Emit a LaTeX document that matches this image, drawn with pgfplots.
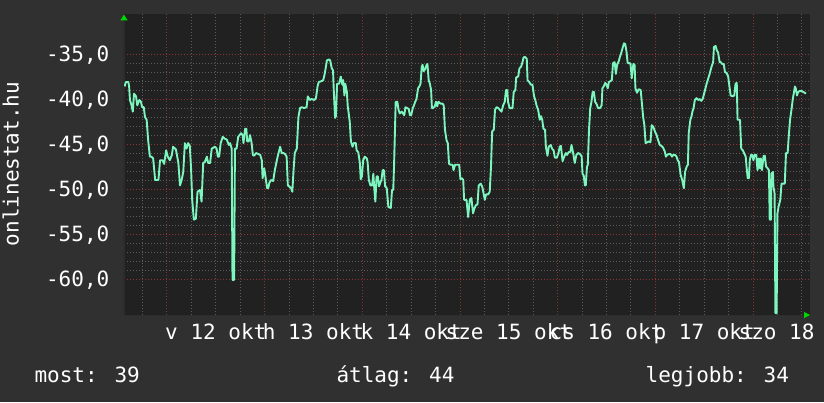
\documentclass[border=0pt]{standalone}
\usepackage{fontspec}
\setmainfont{DejaVu Sans Mono}
\usepackage{pgfplots}
\pgfplotsset{compat=1.18}
\usetikzlibrary{arrows.meta}
\definecolor{outerbg}{RGB}{48,48,48}
\definecolor{plotbg}{RGB}{33,33,33}
\definecolor{gridminor}{RGB}{92,92,92}
\definecolor{gridmajor}{RGB}{140,52,52}
\definecolor{linecol}{RGB}{125,245,190}
\definecolor{arrowgreen}{RGB}{0,215,0}
\definecolor{axiscol}{RGB}{44,44,44}
\begin{document}
\begin{tikzpicture}[font=\fontsize{21}{25}\selectfont]
\useasboundingbox (0,0) rectangle (824pt,402pt);
\clip (0,0) rectangle (824pt,402pt);
\fill[outerbg] (0,0) rectangle (824pt,402pt);
\begin{axis}[
  at={(124pt,87pt)}, anchor=south west,
  scale only axis, width=686pt, height=300.5pt,
  xmin=-10.56, xmax=158.0, ymin=-64.0, ymax=-30.6,
  axis background/.style={fill=plotbg},
  axis x line=bottom, axis y line=left,
  x axis line style={draw=axiscol, line width=1pt, -{Triangle[length=6pt,width=6pt,color=arrowgreen]}},
  y axis line style={draw=axiscol, line width=2pt, -{Triangle[length=6pt,width=7pt,color=arrowgreen]}},
  major tick length=0pt, minor tick length=0pt,
  xtick={12,36,60,84,108,132,156},
  xticklabels={v 12 okt,h 13 okt,k 14 okt,sze 15 okt,cs 16 okt,p 17 okt,szo 18 okt},
  minor xtick={-6,6,12,18,30,36,42,54,60,66,78,84,90,102,108,114,126,132,138,150,156},
  extra x ticks={0,24,48,72,96,120,144},
  extra x tick labels={},
  extra x tick style={xmajorgrids=true},
  xmajorgrids=false, xminorgrids=true,
  ytick={-60,-55,-50,-45,-40,-35},
  yticklabels={{-60,0},{-55,0},{-50,0},{-45,0},{-40,0},{-35,0}},
  minor y tick num=4,
  ymajorgrids=true, yminorgrids=true,
  minor grid style={gridminor, line width=1pt, dash pattern=on 1pt off 2pt},
  major grid style={gridmajor, line width=1pt, dash pattern=on 1pt off 2pt},
  tick label style={white, font=\fontsize{21}{25}\selectfont},
  xticklabel style={anchor=base, inner sep=0pt, yshift=-24pt},
  yticklabel style={anchor=base east, inner sep=0pt, xshift=-14.5pt, yshift=-7.6pt},
  clip=true,
]
\addplot[linecol, line width=1.9pt, line join=round, mark=none] table {
x y
-10.4 -38.6
-10.1 -38.1
-9.5 -38.1
-9.3 -38.6
-9.1 -40.1
-8.7 -40.7
-8.4 -41.4
-8.1 -39.4
-7.6 -39.7
-7.3 -40.7
-6.8 -40.1
-6.4 -40.3
-6.1 -40.9
-5.7 -40.9
-5.4 -42.0
-5.0 -42.3
-4.6 -44.7
-4.2 -46.4
-3.8 -46.4
-3.4 -46.6
-2.9 -49.0
-2.1 -49.0
-1.7 -46.8
-1.1 -46.8
-0.7 -47.2
-0.2 -45.7
0.2 -46.4
0.7 -46.8
1.2 -46.2
1.5 -45.3
2.2 -45.6
2.8 -47.1
3.2 -49.6
3.6 -49.0
4.0 -48.1
4.4 -44.9
4.8 -45.5
5.2 -44.9
5.6 -45.2
5.9 -47.5
6.2 -51.2
6.6 -53.4
7.1 -53.3
7.5 -50.3
8.1 -50.1
8.5 -51.4
8.9 -47.1
9.3 -47.0
9.8 -46.4
10.1 -47.1
10.6 -47.1
11.0 -45.5
11.8 -45.3
12.2 -45.5
12.5 -46.4
12.8 -46.4
13.2 -44.9
13.7 -44.2
14.2 -44.4
14.7 -44.5
15.2 -45.1
15.5 -44.9
15.9 -45.5
16.1 -60.1
16.5 -60.1
16.7 -45.5
17.1 -45.5
17.5 -44.2
18.2 -43.8
18.6 -44.0
18.8 -44.9
19.2 -43.3
19.5 -43.3
19.7 -44.7
20.1 -44.7
20.4 -44.0
20.8 -44.9
21.1 -46.2
21.4 -46.3
21.9 -46.0
22.4 -46.1
22.9 -46.2
23.3 -46.8
23.5 -48.8
23.9 -47.7
24.2 -48.6
24.6 -49.9
24.9 -49.9
25.1 -49.4
25.5 -49.0
26.1 -49.1
26.5 -47.9
27.0 -46.8
27.3 -46.2
27.8 -45.3
28.2 -46.0
28.6 -46.0
29.0 -46.1
29.4 -46.4
29.7 -49.6
30.0 -49.7
30.5 -49.9
30.8 -50.3
31.1 -47.9
31.4 -46.0
31.9 -45.5
32.3 -42.0
32.7 -41.0
33.1 -40.9
33.7 -41.0
34.3 -40.9
34.6 -39.7
35.1 -40.1
35.5 -40.0
36.2 -40.1
36.6 -39.9
37.0 -38.6
37.3 -38.1
38.0 -38.0
38.4 -37.9
38.8 -37.1
39.3 -35.7
39.8 -35.6
40.1 -35.7
40.5 -36.6
40.8 -36.8
41.0 -39.2
41.3 -42.1
41.5 -41.9
41.8 -38.3
42.3 -38.3
42.7 -37.5
43.1 -38.4
43.3 -37.9
43.6 -39.6
43.8 -38.3
44.2 -39.2
44.4 -40.7
44.9 -42.5
45.2 -44.7
45.6 -45.3
45.9 -44.9
46.4 -44.9
46.6 -45.7
47.0 -45.9
47.4 -47.1
47.6 -48.9
47.9 -48.6
48.2 -46.8
48.6 -46.4
49.1 -46.6
49.3 -47.0
49.6 -49.0
50.0 -49.6
50.4 -49.6
50.7 -48.3
50.9 -49.7
51.2 -51.4
51.5 -48.6
51.8 -48.6
52.1 -49.7
52.5 -49.2
52.7 -49.0
53.0 -47.9
53.3 -47.9
53.6 -49.7
54.0 -49.9
54.4 -52.0
55.0 -52.1
55.3 -50.1
55.6 -50.1
55.8 -47.3
56.2 -40.3
56.6 -40.3
56.9 -41.2
57.2 -41.6
57.7 -41.4
58.0 -41.6
58.3 -41.8
58.6 -40.9
59.0 -41.0
59.4 -41.1
59.7 -41.8
60.0 -41.8
60.4 -41.0
60.7 -40.7
61.0 -40.3
61.3 -40.0
61.7 -38.8
62.0 -38.6
62.3 -38.3
62.6 -36.4
62.8 -36.2
63.1 -36.9
63.5 -36.6
63.8 -36.2
64.0 -36.1
64.3 -37.9
64.6 -38.3
64.9 -39.0
65.1 -41.0
65.4 -41.0
65.8 -40.8
66.1 -40.3
66.4 -40.8
66.7 -40.3
67.2 -40.5
67.7 -40.5
68.0 -40.7
68.3 -43.4
68.7 -44.6
69.0 -44.9
69.3 -47.2
69.7 -47.3
70.2 -47.3
70.4 -47.9
70.8 -47.3
71.3 -47.3
71.8 -47.3
72.1 -48.9
72.5 -48.8
72.8 -49.0
73.0 -51.2
73.6 -51.2
74.0 -53.1
74.4 -51.2
74.8 -51.0
75.2 -52.7
75.5 -52.2
75.9 -51.8
76.3 -51.7
76.6 -49.6
77.1 -49.4
77.5 -49.8
77.8 -50.5
78.1 -51.2
78.4 -50.6
78.9 -50.6
79.3 -50.3
79.6 -47.7
79.9 -43.6
80.3 -43.4
80.6 -41.2
81.0 -40.9
81.4 -41.0
81.8 -41.2
82.2 -41.4
82.6 -40.7
83.0 -40.3
83.3 -39.0
83.6 -39.0
83.8 -40.3
84.2 -41.0
84.5 -41.0
84.9 -41.0
85.2 -39.2
85.6 -39.0
85.8 -37.6
86.3 -37.5
86.6 -36.6
87.0 -36.4
87.3 -36.0
87.6 -35.4
87.9 -35.3
88.4 -35.5
88.6 -37.9
89.0 -38.1
89.4 -38.4
89.8 -38.4
90.2 -39.7
90.5 -40.1
90.8 -40.7
91.2 -41.2
91.6 -42.3
91.9 -41.9
92.2 -42.3
92.5 -43.3
92.9 -43.4
93.1 -45.3
93.5 -46.3
93.8 -45.3
94.3 -45.1
94.6 -45.5
95.0 -45.7
95.3 -46.5
95.8 -46.5
96.2 -46.0
96.5 -45.3
96.8 -45.2
97.2 -46.9
97.6 -46.4
98.0 -46.0
98.3 -46.2
98.7 -45.9
99.1 -45.9
99.4 -45.1
99.8 -46.0
100.2 -47.1
100.6 -46.2
101.0 -46.0
101.5 -46.1
101.9 -46.4
102.1 -48.3
102.4 -48.5
102.7 -49.6
102.9 -49.6
103.2 -47.5
103.4 -47.3
103.7 -43.4
104.0 -41.0
104.3 -40.3
104.6 -39.2
104.9 -39.2
105.2 -40.3
105.6 -40.6
105.9 -41.0
106.4 -41.0
106.8 -40.7
107.0 -38.8
107.3 -38.6
107.7 -38.2
108.0 -38.4
108.3 -38.8
108.6 -38.1
109.0 -38.0
109.3 -37.9
109.6 -36.0
110.0 -35.9
110.3 -37.2
110.6 -36.2
111.0 -35.8
111.3 -35.3
111.6 -34.9
111.9 -34.4
112.3 -33.8
112.6 -33.9
112.9 -34.7
113.2 -36.0
113.6 -36.0
113.9 -36.1
114.2 -37.7
114.4 -36.8
114.6 -36.1
114.9 -36.2
115.1 -38.8
115.5 -39.3
115.9 -38.9
116.4 -39.0
116.7 -40.5
117.0 -42.0
117.3 -42.9
117.6 -44.9
118.0 -44.8
118.4 -44.7
118.8 -44.8
119.1 -42.9
119.5 -43.1
119.9 -43.6
120.3 -44.0
120.7 -44.6
121.1 -45.1
121.5 -45.2
121.9 -45.4
122.3 -45.8
122.6 -46.4
122.9 -46.2
123.4 -46.1
123.7 -46.1
124.1 -46.4
124.4 -46.2
124.8 -46.2
125.2 -46.4
125.5 -46.8
125.8 -47.0
126.2 -48.4
126.6 -49.0
127.0 -49.9
127.3 -48.1
127.7 -47.5
128.0 -47.3
128.2 -43.8
128.6 -42.3
128.9 -41.9
129.1 -41.4
129.4 -41.0
129.7 -40.1
130.1 -39.9
130.5 -40.1
130.9 -40.0
131.3 -40.2
131.7 -39.9
132.2 -39.0
132.6 -38.3
133.0 -37.7
133.4 -37.1
133.8 -36.4
134.2 -35.9
134.4 -34.2
134.8 -34.1
135.1 -34.6
135.4 -34.8
135.8 -35.9
136.1 -35.9
136.4 -36.1
136.8 -36.1
137.1 -37.0
137.5 -37.1
137.9 -37.5
138.2 -38.6
138.5 -39.6
139.0 -39.7
139.4 -39.6
139.7 -38.3
140.0 -38.2
140.2 -42.3
140.5 -42.3
140.8 -42.3
141.1 -45.5
141.5 -45.7
141.8 -46.0
142.2 -46.4
142.4 -47.5
142.7 -48.8
143.0 -48.8
143.2 -46.8
143.5 -46.2
143.8 -46.2
144.1 -46.8
144.4 -46.2
144.8 -46.2
145.1 -47.9
145.4 -46.6
145.7 -47.7
145.9 -46.6
146.2 -47.9
146.6 -46.3
146.9 -46.3
147.2 -47.5
147.6 -47.7
147.9 -47.9
148.1 -53.4
148.4 -53.4
148.5 -48.3
148.9 -48.1
149.0 -49.7
149.3 -50.5
149.5 -63.8
149.8 -63.8
150.0 -52.7
150.3 -51.9
150.7 -51.2
151.0 -49.4
151.4 -49.4
151.8 -49.4
152.1 -46.0
152.5 -46.0
152.8 -44.0
153.1 -42.3
153.5 -41.0
153.8 -39.9
154.0 -39.4
154.3 -38.6
154.5 -38.8
154.8 -39.6
155.1 -39.2
155.5 -39.1
155.9 -39.1
156.3 -39.2
156.7 -39.3
157.0 -39.4
};
\end{axis}
\node[white, rotate=90, anchor=base] at (18.5pt,238pt) {onlinestat.hu};
\node[white, anchor=base west] at (31pt,20pt) {most: 39};
\node[white, anchor=base west] at (333pt,20pt) {átlag: 44};
\node[white, anchor=base east] at (792.5pt,20pt) {legjobb: 34};
\end{tikzpicture}
\end{document}
